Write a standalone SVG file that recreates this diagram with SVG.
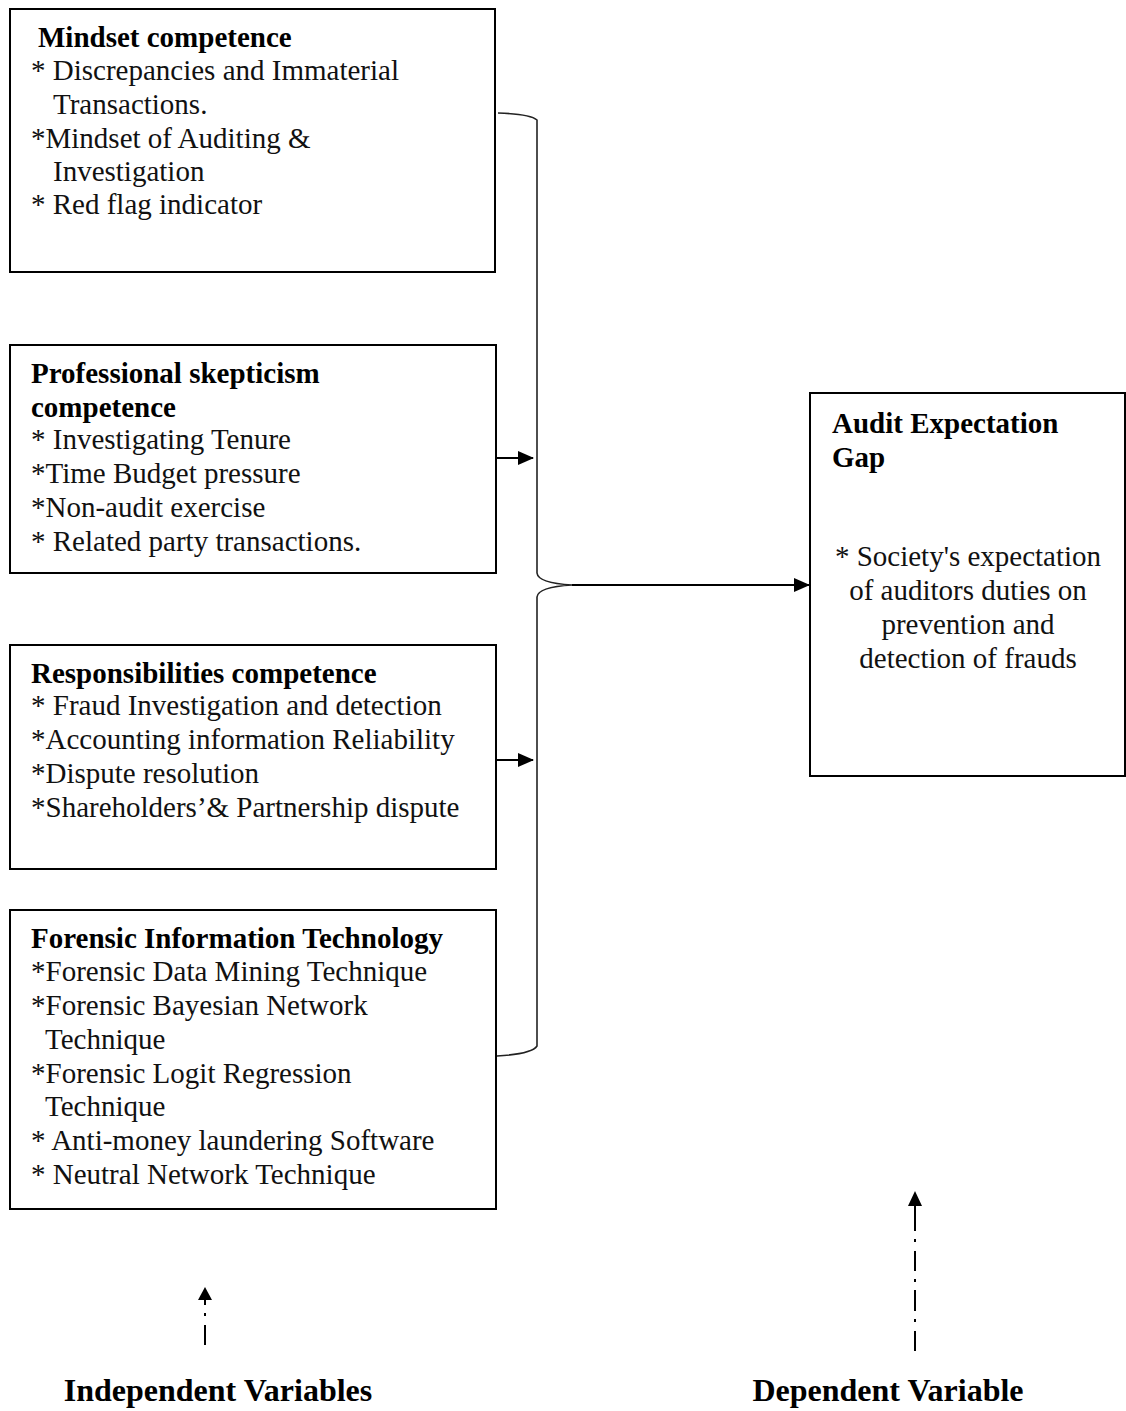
<svg xmlns="http://www.w3.org/2000/svg" width="1126" height="1411" viewBox="0 0 1126 1411">
<defs>
<style>
text{font-family:"Liberation Serif","Times New Roman",serif;font-size:29px;fill:#111}
.b{font-weight:bold;fill:#000}
.lbl{font-weight:bold;font-size:32px;fill:#000}
.box{fill:#fff;stroke:#000;stroke-width:2}
.ln{fill:none;stroke:#222;stroke-width:1.6}
.ar{fill:none;stroke:#000;stroke-width:2}
.c{text-anchor:middle}
</style>
<marker id="ah" markerWidth="16" markerHeight="16" refX="15" refY="8" orient="auto" markerUnits="userSpaceOnUse" viewBox="0 0 16 16">
<path d="M0,1 L16,8 L0,15 z" fill="#000"/>
</marker>
</defs>
<g id="n1">
<rect class="box" x="10" y="9" width="485" height="263"/>
<text class="b" x="38" y="47">Mindset competence</text>
<text x="31" y="80">* Discrepancies and Immaterial</text>
<text x="53" y="114">Transactions.</text>
<text x="31" y="148">*Mindset of Auditing &amp;</text>
<text x="53" y="181">Investigation</text>
<text x="31" y="214">* Red flag indicator</text>
</g>
<g id="n2">
<rect class="box" x="10" y="345" width="486" height="228"/>
<text class="b" x="31" y="383">Professional skepticism</text>
<text class="b" x="31" y="417">competence</text>
<text x="31" y="449">* Investigating Tenure</text>
<text x="31" y="483">*Time Budget pressure</text>
<text x="31" y="517">*Non-audit exercise</text>
<text x="31" y="551">* Related party transactions.</text>
</g>
<g id="n3">
<rect class="box" x="10" y="645" width="486" height="224"/>
<text class="b" x="31" y="683">Responsibilities competence</text>
<text x="31" y="715">* Fraud Investigation and detection</text>
<text x="31" y="749">*Accounting information Reliability</text>
<text x="31" y="783">*Dispute resolution</text>
<text x="31" y="817">*Shareholders’&amp; Partnership dispute</text>
</g>
<g id="n4">
<rect class="box" x="10" y="910" width="486" height="299"/>
<text class="b" x="31" y="948">Forensic Information Technology</text>
<text x="31" y="981">*Forensic Data Mining Technique</text>
<text x="31" y="1015">*Forensic Bayesian Network</text>
<text x="45" y="1049">Technique</text>
<text x="31" y="1083">*Forensic Logit Regression</text>
<text x="45" y="1116">Technique</text>
<text x="31" y="1150">* Anti-money laundering Software</text>
<text x="31" y="1184">* Neutral Network Technique</text>
</g>
<g id="n5">
<rect class="box" x="810" y="393" width="315" height="383"/>
<text class="b" x="832" y="433">Audit Expectation</text>
<text class="b" x="832" y="467">Gap</text>
<text class="c" x="968" y="566">* Society's expectation</text>
<text class="c" x="968" y="600">of auditors duties on</text>
<text class="c" x="968" y="634">prevention and</text>
<text class="c" x="968" y="668">detection of frauds</text>
</g>
<g id="connectors">
<path class="ln" d="M498,113 Q530,114 537,120 L537,573 Q538,583 572,585 Q538,587 537,597 L537,1046 Q532,1054 497,1056"/>
<line class="ar" x1="572" y1="585" x2="809" y2="585" marker-end="url(#ah)"/>
<line class="ar" x1="496" y1="458" x2="533" y2="458" marker-end="url(#ah)"/>
<line class="ar" x1="496" y1="760" x2="533" y2="760" marker-end="url(#ah)"/>
<path d="M198,1300 L205,1287 L212,1300 z" fill="#000"/>
<line class="ar" x1="205" y1="1299" x2="205" y2="1305"/>
<line class="ar" x1="205" y1="1313" x2="205" y2="1316"/>
<line class="ar" x1="205" y1="1325" x2="205" y2="1345"/>
<path d="M908,1206 L915,1191 L922,1206 z" fill="#000"/>
<line class="ar" x1="915" y1="1205" x2="915" y2="1231"/>
<line class="ar" x1="915" y1="1239" x2="915" y2="1242"/>
<line class="ar" x1="915" y1="1251" x2="915" y2="1271"/>
<line class="ar" x1="915" y1="1279" x2="915" y2="1282"/>
<line class="ar" x1="915" y1="1290" x2="915" y2="1311"/>
<line class="ar" x1="915" y1="1319" x2="915" y2="1322"/>
<line class="ar" x1="915" y1="1331" x2="915" y2="1351"/>
</g>
<g id="labels">
<text class="lbl c" x="218" y="1401">Independent Variables</text>
<text class="lbl c" x="888" y="1401">Dependent Variable</text>
</g>
</svg>
